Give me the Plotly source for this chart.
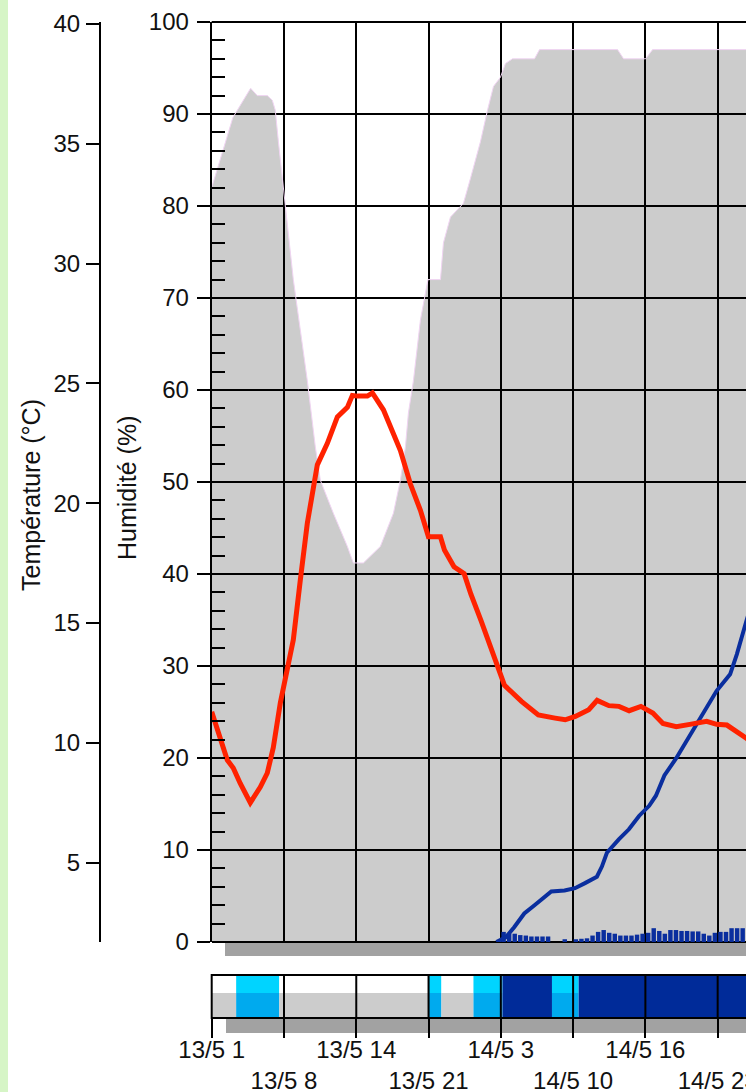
import plotly.graph_objects as go

# ---------------- data ----------------
# Hours counted from 13/5 00:00
hum_hours = [1.0, 1.5, 2.4, 2.9, 3.6, 4.5, 5.1, 6.0, 6.45, 6.72, 7.0, 7.35, 7.62, 8.07, 8.34,
             8.97, 9.6, 10.32, 10.77, 11.94, 13.2, 13.74, 14.64, 16.17, 17.34, 17.97, 18.42,
             18.69, 19.14, 19.77, 20.45, 21.57, 21.84, 22.47, 23.64, 24.27, 25.17, 25.8, 26.34,
             26.97, 27.42, 28.05, 30.03, 30.48, 37.5, 38.04, 40.02, 40.65, 49.5]
hum_values = [82, 84, 87.5, 89.6, 91, 92.8, 92, 92, 91.5, 90.4, 87, 83, 80, 75.5, 72,
              66.5, 61, 53.8, 50.2, 46.6, 43, 41.2, 41.2, 43, 46.6, 50.2, 53.8,
              57.5, 61, 67.6, 72, 72, 76, 78.8, 80.3, 83, 87, 90.4, 93,
              94, 95.5, 96, 96, 97, 97, 96, 96, 97, 97]

temp_hours = [1.0, 1.77, 2.4, 2.94, 3.57, 4.47, 5.37, 6.0, 6.54, 7.17, 7.8, 8.34, 8.97, 9.6,
              10.5, 11.4, 12.3, 13.2, 13.65, 14.1, 15.0, 15.45, 16.44, 17.07, 17.97, 18.87,
              19.77, 20.49, 21.57, 21.93, 22.79, 23.7, 24.31, 25.22, 26.73, 27.33, 28.86,
              30.37, 31.88, 32.79, 33.7, 34.91, 35.66, 36.72, 37.63, 38.54, 39.6, 40.67,
              41.58, 42.78, 44.0, 45.51, 46.41, 47.33, 49.11, 49.5]
temp_values = [11.3, 10.1, 9.28, 8.95, 8.3, 7.5, 8.15, 8.74, 9.8, 11.66, 13.16, 14.3, 16.8, 19.17,
               21.6, 22.5, 23.6, 24.0, 24.5, 24.47, 24.47, 24.6, 23.9, 23.2, 22.2, 20.8,
               19.7, 18.6, 18.6, 18.05, 17.35, 17.06, 16.2, 15.1, 13.1, 12.4, 11.73,
               11.16, 11.03, 10.96, 11.1, 11.38, 11.77, 11.55, 11.52, 11.34, 11.52, 11.24,
               10.81, 10.67, 10.77, 10.9, 10.77, 10.74, 10.18, 10.0]

cum_hours = [26.6, 27.44, 28.2, 29.11, 30.03, 31.54, 32.73, 33.67, 34.57, 35.64, 36.09, 36.54,
             37.61, 38.52, 39.43, 40.34, 40.95, 41.71, 42.76, 43.68, 44.59, 45.5, 46.41,
             47.62, 48.23, 49.11, 49.5]
cum_values = [0, 0.5, 1.6, 3.1, 4.0, 5.5, 5.6, 5.85, 6.4, 7.1, 8.2, 9.7,
              11.15, 12.25, 13.7, 14.8, 15.9, 18.1, 19.95, 21.8, 23.6, 25.4, 27.3,
              29.1, 31.3, 35, 36.5]

rain_hours = [27.25, 27.75, 28.25, 28.75, 29.25, 29.75, 30.25, 30.75, 31.25, 31.75, 32.25,
              32.75, 33.25, 33.75, 34.25, 34.75, 35.25, 35.75, 36.25, 36.75, 37.25, 37.75,
              38.25, 38.75, 39.25, 39.75, 40.25, 40.75, 41.25, 41.75, 42.25, 42.75, 43.25,
              43.75, 44.25, 44.75, 45.25, 45.75, 46.25, 46.75, 47.25, 47.75, 48.25, 48.75]
rain_values = [1.1, 0.9, 0.9, 0.75, 0.7, 0.6, 0.6, 0.6, 0.6, 0, 0,
               0.3, 0, 0.3, 0.35, 0.4, 0.7, 1.1, 1.3, 1.0, 0.9, 0.7,
               0.7, 0.7, 0.8, 0.9, 1.0, 1.5, 1.2, 0.9, 1.3, 1.3, 1.2,
               1.2, 1.15, 1.15, 0.9, 0.7, 1.0, 1.1, 1.1, 1.5, 1.5, 1.5]

# weather strip: segment boundaries (hours) and state code (0 dry, 1 light, 2 rain)
strip_bounds = [1.0, 3.2, 7.08, 20.55, 21.66, 24.54, 27.15, 31.6, 34.0, 49.5]
strip_codes = [0, 1, 0, 1, 0, 1, 2, 1, 2]

x_tick_vals = [1, 7.5, 14, 20.5, 27, 33.5, 40, 46.5]
x_tick_text = ["13/5 1", "<br>13/5 8", "13/5 14", "<br>13/5 21",
               "14/5 3", "<br>14/5 10", "14/5 16", "<br>14/5 23"]

# ---------------- layout geometry ----------------
W, H = 746, 1092
MT, MB = 22, 74
PH = H - MT - MB
X0PX = 211.7
PX_PER_H = 11.12
main_bottom_px, strip_top_px, strip_bottom_px = 942, 975, 1018

def py(px):  # pixel y -> paper y
    return (H - MB - px) / PH

FONT = "Liberation Sans, Arial, sans-serif"
BLACK = "#000000"
TXT = "#111111"

fig = go.Figure()

# humidity area (black at 20% over white gives #ccc, grid lines stay visible)
fig.add_trace(go.Scatter(x=hum_hours, y=hum_values, mode="lines", fill="tozeroy",
                         fillcolor="rgba(0,0,0,0.2)", line=dict(color="#f0d4f2", width=1),
                         yaxis="y", hoverinfo="skip"))
# rain bars
fig.add_trace(go.Bar(x=rain_hours, y=rain_values, width=0.4, yaxis="y",
                     marker=dict(color="#0d3ac6", line=dict(width=0)), hoverinfo="skip"))
# cumulative rain line
fig.add_trace(go.Scatter(x=cum_hours, y=cum_values, mode="lines", yaxis="y",
                         line=dict(color="#0a2e9e", width=4), hoverinfo="skip"))
# temperature
fig.add_trace(go.Scatter(x=temp_hours, y=temp_values, mode="lines", yaxis="y2",
                         line=dict(color="#ff2200", width=5), hoverinfo="skip"))

# strip
bottom_cols = {0: "#cccccc", 1: "#00aaee", 2: "#002b99"}
top_cols = {0: "#ffffff", 1: "#00d4ff", 2: "#002b99"}
mids = [(a + b) / 2 for a, b in zip(strip_bounds[:-1], strip_bounds[1:])]
widths = [b - a for a, b in zip(strip_bounds[:-1], strip_bounds[1:])]
split = 0.58
fig.add_trace(go.Bar(x=mids, y=[split] * len(mids), base=0, width=widths, yaxis="y3",
                     marker=dict(color=[bottom_cols[c] for c in strip_codes], line=dict(width=0)),
                     hoverinfo="skip"))
fig.add_trace(go.Bar(x=mids, y=[1 - split] * len(mids), base=split, width=widths, yaxis="y3",
                     marker=dict(color=[top_cols[c] for c in strip_codes], line=dict(width=0)),
                     hoverinfo="skip"))

x_dom0 = X0PX / W
x_max = 1 + (W - X0PX) / PX_PER_H
main_dom = [py(main_bottom_px), 1]
strip_dom = [0, py(strip_top_px)]
t_lo = 40 - (main_bottom_px - 24) / 23.96
t_hi = 40 + (24 - MT) / 23.96
temp_pos = 100 / W

tickfont = dict(family=FONT, size=24, color=TXT)
titlefont = dict(family=FONT, size=25, color=TXT)

fig.update_layout(
    width=W, height=H, autosize=False,
    margin=dict(l=0, r=0, t=MT, b=MB, pad=0, autoexpand=False),
    paper_bgcolor="white", plot_bgcolor="white",
    showlegend=False, barmode="overlay", hovermode=False,
    xaxis=dict(domain=[x_dom0, 1], range=[1, x_max], anchor="y3", automargin=False,
               tickmode="array", tickvals=x_tick_vals, ticktext=x_tick_text,
               ticks="outside", ticklen=19, tickwidth=2, tickcolor=BLACK,
               showgrid=True, gridcolor=BLACK, gridwidth=2,
               showline=False, zeroline=False, tickangle=0, tickfont=tickfont,
               ticklabelstandoff=-9, ticklabeloverflow="allow"),
    yaxis=dict(domain=main_dom, range=[0, 100], anchor="x", automargin=False,
               tickmode="linear", tick0=0, dtick=10,
               ticks="outside", ticklen=13, tickwidth=2, tickcolor=BLACK,
               minor=dict(ticks="inside", ticklen=13, tickwidth=2, tickcolor=BLACK, dtick=2,
                          showgrid=False),
               showline=True, linecolor=BLACK, linewidth=2,
               showgrid=True, gridcolor=BLACK, gridwidth=2,
               zeroline=True, zerolinecolor=BLACK, zerolinewidth=2,
               tickfont=tickfont, ticklabelstandoff=3),
    yaxis2=dict(overlaying="y", anchor="free", position=temp_pos, side="left", automargin=False,
                range=[t_lo, t_hi], tickmode="linear", tick0=0, dtick=5,
                ticks="outside", ticklen=13, tickwidth=2, tickcolor=BLACK,
                showline=True, linecolor=BLACK, linewidth=2,
                showgrid=False, zeroline=False, tickfont=tickfont, ticklabelstandoff=1),
    yaxis4=dict(overlaying="y", anchor="free", position=temp_pos, side="left", automargin=False,
                range=[t_lo, t_hi], tickmode="array", tickvals=list(range(2, 40)),
                ticks="inside", ticklen=13, tickwidth=2, tickcolor=BLACK,
                showticklabels=False, showline=False, showgrid=False, zeroline=False),
    yaxis3=dict(domain=strip_dom, range=[0, 1], anchor="x", visible=False, automargin=False,
                showgrid=False, zeroline=False),
)

shapes = []
# left green page border
shapes.append(dict(type="rect", xref="paper", yref="paper", x0=0, x1=8 / W, y0=-0.1, y1=1.1,
                   fillcolor="#d6f5c6", line=dict(width=0), layer="below"))
# main plot shadow
shapes.append(dict(type="rect", xref="x domain", yref="y domain",
                   x0=(225 - X0PX) / (W - X0PX), x1=1.05,
                   y0=-(956 - main_bottom_px) / (main_bottom_px - MT), y1=0,
                   fillcolor="#a2a2a2", line=dict(width=0), layer="below"))
# main top frame
shapes.append(dict(type="line", xref="x domain", yref="y domain", x0=0, x1=1.05, y0=1, y1=1,
                   line=dict(color=BLACK, width=2), layer="above"))
# strip shadow
shapes.append(dict(type="rect", xref="x domain", yref="y3 domain",
                   x0=(226 - X0PX) / (W - X0PX), x1=1.05,
                   y0=-(1033 - strip_bottom_px) / (strip_bottom_px - strip_top_px), y1=0,
                   fillcolor="#a2a2a2", line=dict(width=0), layer="below"))
# strip grid lines
for t in x_tick_vals[1:]:
    shapes.append(dict(type="line", xref="x", yref="y3 domain", x0=t, x1=t, y0=0, y1=1,
                       line=dict(color=BLACK, width=2), layer="above"))
# strip frame
shapes.append(dict(type="rect", xref="x domain", yref="y3 domain", x0=0, x1=1.05, y0=0, y1=1,
                   line=dict(color=BLACK, width=2), fillcolor="rgba(0,0,0,0)", layer="above"))
fig.update_layout(shapes=shapes)

fig.add_annotation(text="Température (°C)", xref="paper", yref="paper",
                   x=31 / W, y=py(495), textangle=-90, showarrow=False,
                   xanchor="center", yanchor="middle", font=titlefont)
fig.add_annotation(text="Humidité (%)", xref="paper", yref="paper",
                   x=127 / W, y=py(488), textangle=-90, showarrow=False,
                   xanchor="center", yanchor="middle", font=titlefont)

fig.write_html("out.html", config={"displayModeBar": False},
               post_script="document.body.style.margin='0';document.body.style.overflow='hidden';")
